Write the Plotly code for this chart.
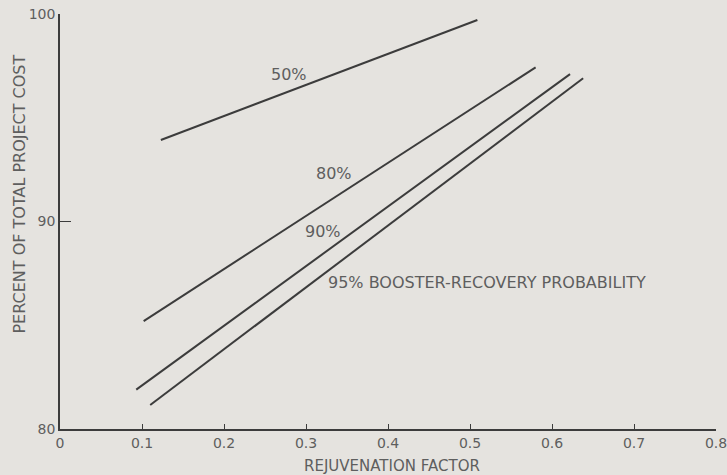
import plotly.graph_objects as go

# Data (rejuvenation factor vs percent of total project cost)
series_names = ["50%", "80%", "90%", "95%"]
x_start = [0.123, 0.102, 0.093, 0.110]
x_end = [0.509, 0.580, 0.622, 0.638]
y_start = [93.93, 85.2, 81.9, 81.16]
y_end = [99.71, 97.43, 97.1, 96.9]

label_texts = ["50%", "80%", "90%", "95% BOOSTER-RECOVERY PROBABILITY"]
label_x = [0.279, 0.334, 0.321, 0.324]
label_y = [97.1, 92.32, 89.54, 87.05]
label_anchor = ["center", "center", "center", "left"]

x_tickvals = [0, 0.1, 0.2, 0.3, 0.4, 0.5, 0.6, 0.7, 0.8]
x_ticktext = ["0", "0.1", "0.2", "0.3", "0.4", "0.5", "0.6", "0.7", "0.8"]
y_tickvals = [80, 90, 100]
y_ticktext = ["80", "90", "100"]

BG = "#e5e3df"
INK = "#3c3c3c"
TXT = "#5e5e5e"
FONT = "DejaVu Sans"

fig = go.Figure()
for name, xs, xe, ys, ye in zip(series_names, x_start, x_end, y_start, y_end):
    fig.add_trace(go.Scatter(x=[xs, xe], y=[ys, ye], mode="lines", name=name,
                             line=dict(color=INK, width=2), showlegend=False,
                             hoverinfo="skip"))

for t, lx, ly, anc in zip(label_texts, label_x, label_y, label_anchor):
    fig.add_annotation(x=lx, y=ly, xref="x", yref="y", text=t, showarrow=False,
                       xanchor=anc, yanchor="middle",
                       font=dict(family=FONT, size=16, color=TXT))

fig.add_annotation(x=0.405, y=0, xref="x", yref="paper", text="REJUVENATION FACTOR",
                   showarrow=False, xanchor="center", yanchor="middle", yshift=-37,
                   font=dict(family=FONT, size=15, color=TXT))
fig.add_annotation(x=0, y=91.3, xref="paper", yref="y", text="PERCENT OF TOTAL PROJECT COST",
                   showarrow=False, xanchor="center", yanchor="middle", xshift=-40,
                   textangle=-90, font=dict(family=FONT, size=16, color=TXT))

fig.update_xaxes(range=[0, 0.8], tickvals=x_tickvals, ticktext=x_ticktext,
                 showline=True, linecolor=INK, linewidth=1.5, ticks="inside",
                 ticklen=5, tickcolor=INK, tickwidth=1, showgrid=False, zeroline=False,
                 ticklabeloverflow="allow", automargin=False,
                 tickfont=dict(family=FONT, size=14, color=TXT))
fig.update_yaxes(range=[80, 100], tickvals=y_tickvals, ticktext=y_ticktext,
                 showline=True, linecolor=INK, linewidth=1.5, ticks="inside",
                 ticklen=11, tickcolor=INK, tickwidth=1, showgrid=False, zeroline=False,
                 ticklabeloverflow="allow", automargin=False,
                 tickfont=dict(family=FONT, size=14, color=TXT))

fig.update_layout(width=727, height=475, paper_bgcolor=BG, plot_bgcolor=BG,
                  margin=dict(l=60, r=11, t=14, b=46), showlegend=False)

# remove the browser's default 8px body margin so the figure fills the window exactly
fig.write_html("out.html", config={"displayModeBar": False},
               post_script="document.body.style.margin='0';document.body.style.overflow='hidden';")
